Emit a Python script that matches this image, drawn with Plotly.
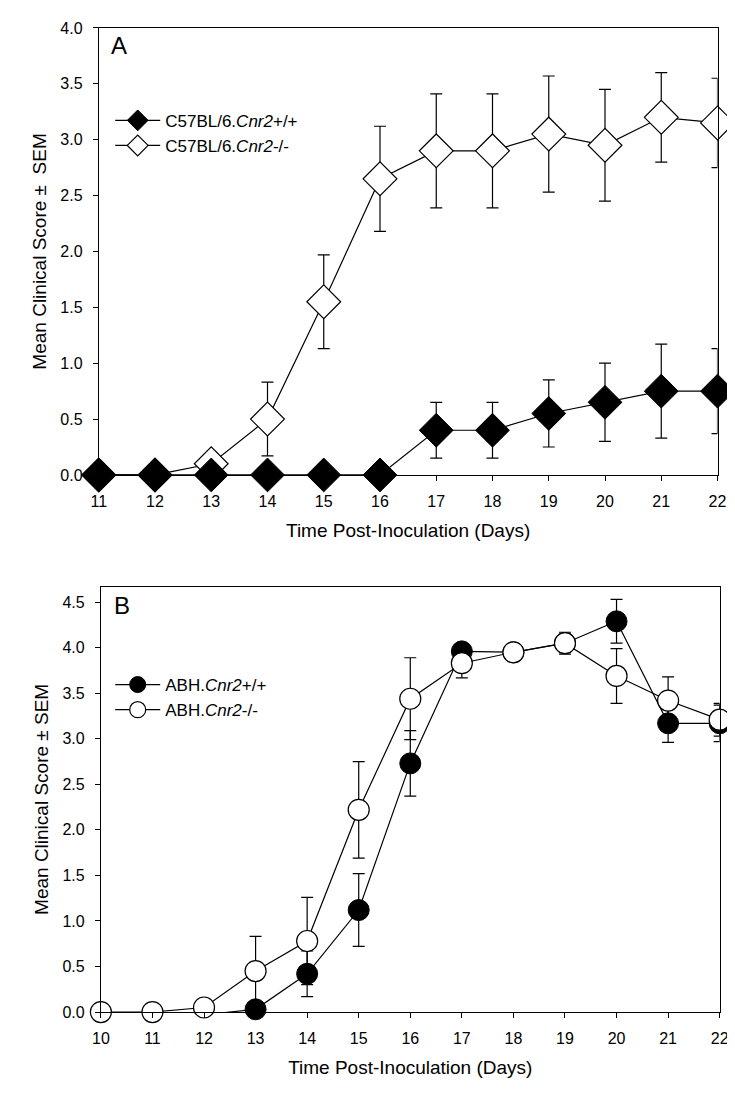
import plotly.graph_objects as go

days_a = list(range(11, 23))
wt_a = [0, 0, 0, 0, 0, 0, 0.4, 0.4, 0.55, 0.65, 0.75, 0.75]
wt_a_err = [0, 0, 0, 0, 0, 0, 0.25, 0.25, 0.3, 0.35, 0.42, 0.38]
ko_a = [0, 0, 0.1, 0.5, 1.55, 2.65, 2.9, 2.9, 3.05, 2.95, 3.2, 3.15]
ko_a_err = [0, 0, 0.1, 0.33, 0.42, 0.47, 0.51, 0.51, 0.52, 0.5, 0.4, 0.4]

days_b = list(range(10, 23))
wt_b = [None, None, -0.03, 0.03, 0.42, 1.12, 2.73, 3.96, 3.95, 4.05, 4.29, 3.17, 3.17]
wt_b_err = [0, 0, 0, 0, 0.25, 0.4, 0.36, 0.05, 0.03, 0.1, 0.24, 0.21, 0.2]
ko_b = [0, 0, 0.05, 0.45, 0.78, 2.22, 3.44, 3.83, 3.95, 4.05, 3.69, 3.42, 3.21]
ko_b_err = [0, 0, 0, 0.38, 0.48, 0.53, 0.45, 0.16, 0.03, 0.12, 0.3, 0.26, 0.18]

F = "Liberation Sans, Arial, sans-serif"
fig = go.Figure()

def err(e):
    return dict(type="data", array=e, color="black", thickness=1.2, width=6)

fig.add_trace(go.Scatter(x=days_a, y=ko_a, error_y=err(ko_a_err), mode="lines+markers",
    name="C57BL/6.<i>Cnr2</i>-/-", line=dict(color="black", width=1.2),
    marker=dict(symbol="diamond", size=26, color="white", line=dict(color="black", width=1.2)),
    cliponaxis=False, xaxis="x", yaxis="y", legend="legend"))
fig.add_trace(go.Scatter(x=days_a, y=wt_a, error_y=err(wt_a_err), mode="lines+markers",
    name="C57BL/6.<i>Cnr2</i>+/+", line=dict(color="black", width=1.2),
    marker=dict(symbol="diamond", size=26, color="black", line=dict(color="black", width=1)),
    cliponaxis=False, xaxis="x", yaxis="y", legend="legend"))
fig.add_trace(go.Scatter(x=days_b, y=wt_b, error_y=err(wt_b_err), mode="lines+markers",
    name="ABH.<i>Cnr2</i>+/+", line=dict(color="black", width=1.2),
    marker=dict(symbol="circle", size=21, color="black", line=dict(color="black", width=1)),
    cliponaxis=False, xaxis="x2", yaxis="y2", legend="legend2"))
fig.add_trace(go.Scatter(x=days_b, y=ko_b, error_y=err(ko_b_err), mode="lines+markers",
    name="ABH.<i>Cnr2</i>-/-", line=dict(color="black", width=1.2),
    marker=dict(symbol="circle", size=21, color="white", line=dict(color="black", width=1.2)),
    cliponaxis=False, xaxis="x2", yaxis="y2", legend="legend2"))

ax = dict(showline=True, linecolor="black", linewidth=1, mirror=True, ticks="outside",
          ticklen=5, tickcolor="black", showgrid=False, zeroline=False, ticklabelstandoff=7,
          tickfont=dict(family=F, size=16, color="black"),
          title_font=dict(family=F, size=19, color="black"))

fig.update_layout(
    width=735, height=1102, margin=dict(l=0, r=0, t=0, b=0),
    paper_bgcolor="white", plot_bgcolor="white",
    xaxis=dict(ax, domain=[0.114, 0.977], range=[11, 22], dtick=1, anchor="y",
               title=dict(text="Time Post-Inoculation (Days)", standoff=14)),
    yaxis=dict(ax, domain=[0.577, 0.989], range=[0, 4.0], dtick=0.5, tickformat=".1f", anchor="x",
               title=dict(text="Mean Clinical Score ±  SEM", standoff=8)),
    xaxis2=dict(ax, domain=[0.117, 0.98], range=[10, 22], dtick=1, anchor="y2",
                title=dict(text="Time Post-Inoculation (Days)", standoff=14)),
    yaxis2=dict(ax, domain=[0.082, 0.474], range=[0, 4.67], dtick=0.5, tickformat=".1f", anchor="x2",
                title=dict(text="Mean Clinical Score ± SEM", standoff=8)),
    legend=dict(x=0.13, y=0.92, xanchor="left", yanchor="top", traceorder="reversed",
                bgcolor="rgba(0,0,0,0)", font=dict(family=F, size=17, color="black"), itemwidth=45),
    legend2=dict(x=0.13, y=0.40, xanchor="left", yanchor="top",
                 bgcolor="rgba(0,0,0,0)", font=dict(family=F, size=17, color="black"), itemwidth=45),
    annotations=[
        dict(text="A", x=0.128, y=0.973, xref="paper", yref="paper", showarrow=False,
             xanchor="left", yanchor="middle", font=dict(family=F, size=24, color="black")),
        dict(text="B", x=0.132, y=0.457, xref="paper", yref="paper", showarrow=False,
             xanchor="left", yanchor="middle", font=dict(family=F, size=24, color="black")),
    ],
)
fig.write_html("out.html")
